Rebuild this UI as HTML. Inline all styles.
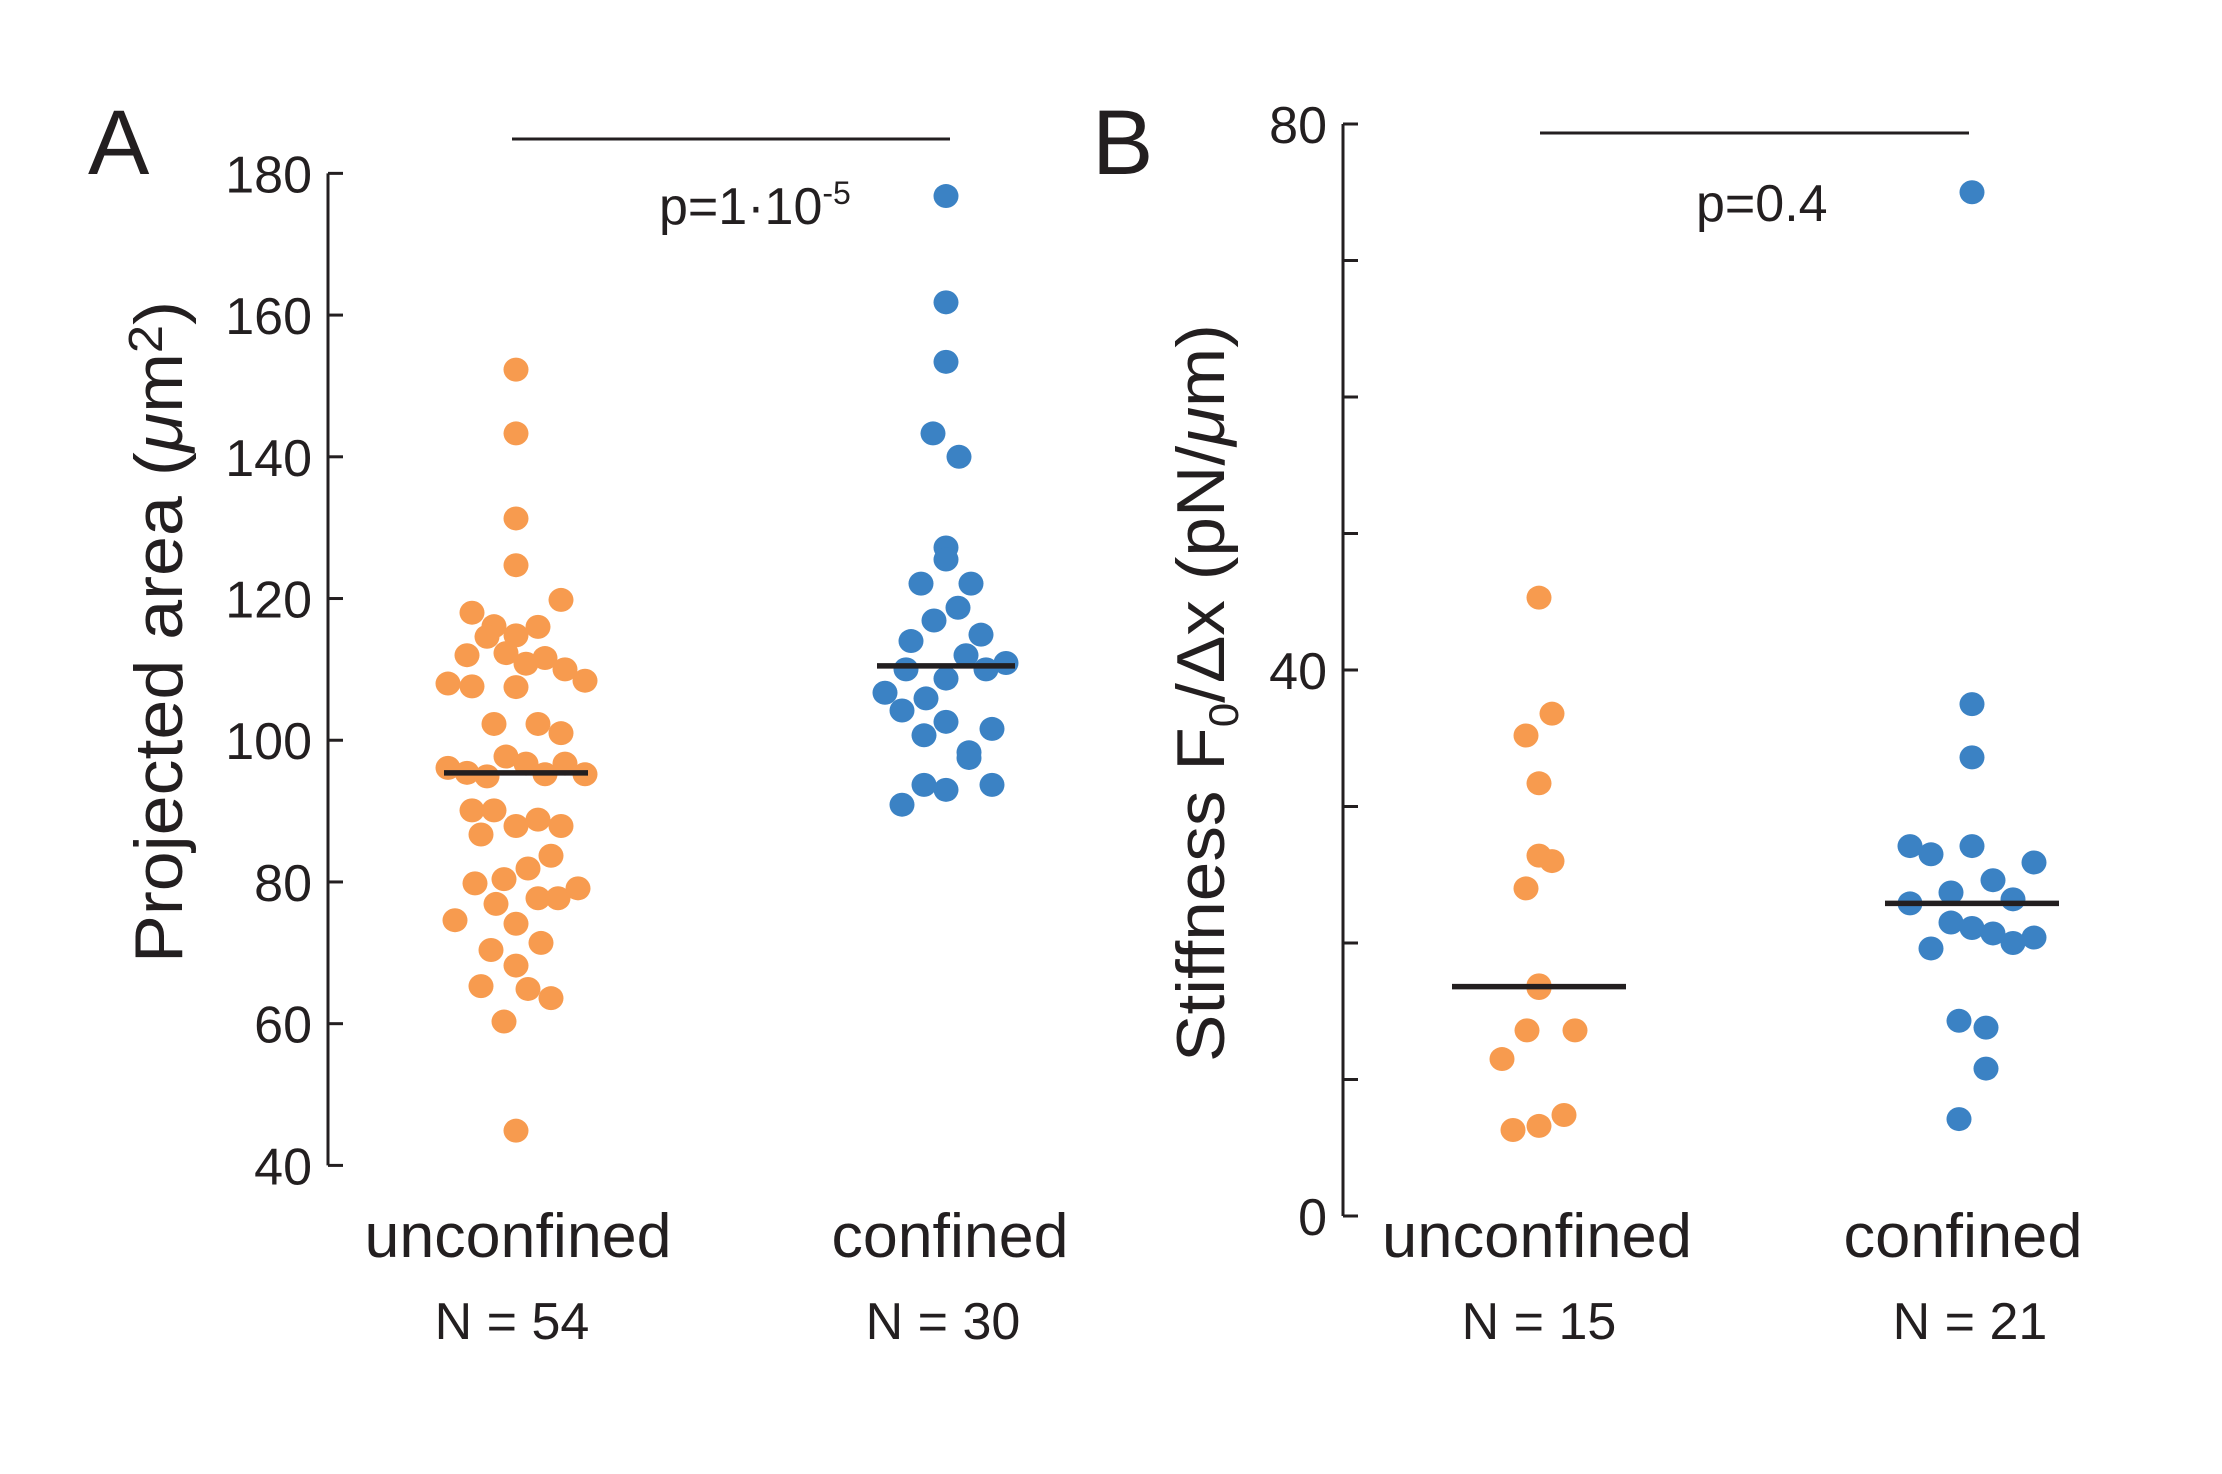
<!DOCTYPE html>
<html><head><meta charset="utf-8"><style>
html,body{margin:0;padding:0;background:#fff;}
svg{display:block;font-family:"Liberation Sans",Arial,sans-serif;fill:#231f20;}
</style></head><body>
<svg id="fig" width="2222" height="1474" viewBox="0 0 2222 1474" xmlns="http://www.w3.org/2000/svg">
<g id="panelA"></g>
<g id="panelB"></g>
</svg>
<script>
// Panel A data
const aTicks = [40,60,80,100,120,140,160,180];
const aUnconf = [152.3,143.3,131.3,124.7,119.8,118.0,116.1,114.6,114.8,116.0,112.0,112.3,111.6,110.8,110.0,108.4,108.0,107.6,107.5,102.3,102.3,101.0,97.7,96.7,96.1,95.4,94.9,95.2,96.7,95.2,90.1,90.1,86.7,87.9,88.8,87.9,83.7,81.9,79.8,80.4,77.7,77.7,79.1,76.9,74.6,74.1,71.4,70.4,68.2,65.3,64.9,63.6,60.3,44.9];
const aUnconfJit = [0,0,0,0,45,-44,-22,-29,0,22,-49,-10,29,10,49,69,-68,-44,0,-22,22,45,-10,10,-68,-49,-29,29,49,69,-44,-22,-35,0,22,45,35,12,-41,-12,22,42,62,-20,-61,0,25,-25,0,-35,12,35,-12,0];
const aConf = [176.8,161.8,153.4,143.3,140.0,127.2,125.5,122.1,122.1,118.7,116.9,114.9,114.0,112.0,110.9,110.0,110.0,108.7,106.7,105.9,104.2,102.6,101.6,100.7,98.3,97.5,93.7,93.0,93.7,90.9];
const aConfJit = [0,0,0,-13,13,0,0,-25,25,12,-12,35,-35,20,60,40,-40,0,-61,-20,-44,0,46,-22,23,23,-22,0,46,-44];
const aMedians = [95.4,110.5];
// Panel B data
const bTicks = [0,10,20,30,40,50,60,70,80];
const bTickLabels = ["0","","","","40","","","","80"];
const bUnconf = [45.3,36.8,35.2,31.7,26.4,26.0,24.0,16.9,16.7,13.6,13.6,11.5,7.4,6.6,6.3];
const bUnconfJit = [0,13,-13,0,0,13,-13,0,0,-12,36,-37,25,0,-26];
const bConf = [75.0,37.5,33.6,27.1,26.5,27.1,25.9,24.6,23.7,23.2,22.9,21.5,21.1,20.7,20.4,20.0,19.6,14.3,13.8,10.8,7.1];
const bConfJit = [0,0,0,-62,-41,0,62,21,-21,41,-62,-21,0,21,62,41,-41,-13,14,14,-13];
const bMedians = [16.8,22.9];

const NS="http://www.w3.org/2000/svg";
const ORANGE="#f79b4f", BLUE="#3b82c4", INK="#231f20";
function mk(parent,tag,attrs,text){const e=document.createElementNS(NS,tag);for(const k in attrs)e.setAttribute(k,attrs[k]);if(text!==undefined)e.textContent=text;parent.appendChild(e);return e;}

function panel(g,cfg){
  const y=cfg.y;
  const ax=mk(g,'line',{x1:cfg.axX,x2:cfg.axX,y1:y(cfg.max),y2:y(cfg.min),stroke:INK,'stroke-width':3});
  
  
  cfg.ticks.forEach((t,i)=>{
    const tk=mk(g,'line',{x1:cfg.axX,x2:cfg.axX+15,y1:y(t),y2:y(t),stroke:INK,'stroke-width':3});
    
    
    const lab=cfg.tickLabels[i];
    if(lab){
      const tl=mk(g,'text',{x:cfg.axX-16,y:y(t)+19,'text-anchor':'end','font-size':52},lab);
      
      
    }
  });
  cfg.series.forEach(s=>{
    s.vals.forEach((v,i)=>{
      const c=mk(g,'ellipse',{cx:s.cx+s.jit[i],cy:y(v),rx:12.5,ry:12,fill:s.color});
      
      
    });
  });
  cfg.series.forEach((s,i)=>{
    const m=mk(g,'line',{x1:s.cx-s.half,x2:s.cx+s.half,y1:y(cfg.medians[i]),y2:y(cfg.medians[i]),stroke:INK,'stroke-width':5.5});
    
    
  });
}
const yA=v=>1165.4-(v-40)*7.086;
const yB=v=>1216-v*13.65;
panel(document.getElementById('panelA'),{y:yA,axX:328,min:40,max:180,ticks:aTicks,tickLabels:aTicks.map(String),medians:aMedians,
  series:[{name:'unconfined',vals:aUnconf,jit:aUnconfJit,cx:516,color:ORANGE,half:72},{name:'confined',vals:aConf,jit:aConfJit,cx:946,color:BLUE,half:69}]});
panel(document.getElementById('panelB'),{y:yB,axX:1343,min:0,max:80,ticks:bTicks,tickLabels:bTickLabels,medians:bMedians,
  series:[{name:'unconfined',vals:bUnconf,jit:bUnconfJit,cx:1539,color:ORANGE,half:87},{name:'confined',vals:bConf,jit:bConfJit,cx:1972,color:BLUE,half:87}]});
</script>
<svg style="position:absolute;left:0;top:0" width="2222" height="1474" viewBox="0 0 2222 1474" xmlns="http://www.w3.org/2000/svg">
<g font-family="Liberation Sans, Arial, sans-serif" fill="#231f20">
<text x="88" y="174" font-size="92">A</text>
<text x="1092" y="174" font-size="92">B</text>
<line x1="512" x2="950" y1="139" y2="139" stroke="#231f20" stroke-width="3"/>
<text x="659" y="224" font-size="52">p=1·10<tspan font-size="32" dy="-20">-5</tspan></text>
<line x1="1540" x2="1969" y1="133" y2="133" stroke="#231f20" stroke-width="3"/>
<text x="1696" y="221" font-size="52">p=0.4</text>
<text transform="translate(182,632) rotate(-90)" text-anchor="middle" font-size="68" textLength="662" lengthAdjust="spacingAndGlyphs">Projected area (<tspan font-style="italic">μ</tspan>m<tspan font-size="48" dy="-20">2</tspan><tspan dy="20">)</tspan></text>
<text transform="translate(1224,693) rotate(-90)" text-anchor="middle" font-size="68" textLength="738" lengthAdjust="spacingAndGlyphs">Stiffness F<tspan font-size="42" dy="14">0</tspan><tspan dy="-14">/Δx (pN/</tspan><tspan font-style="italic">μ</tspan>m)</text>
<text x="518" y="1257" text-anchor="middle" font-size="62" textLength="307" lengthAdjust="spacingAndGlyphs">unconfined</text>
<text x="950" y="1257" text-anchor="middle" font-size="62" textLength="237" lengthAdjust="spacingAndGlyphs">confined</text>
<text x="512" y="1339" text-anchor="middle" font-size="52">N = 54</text>
<text x="943" y="1339" text-anchor="middle" font-size="52">N = 30</text>
<text x="1537" y="1257" text-anchor="middle" font-size="62" textLength="310" lengthAdjust="spacingAndGlyphs">unconfined</text>
<text x="1963" y="1257" text-anchor="middle" font-size="62" textLength="239" lengthAdjust="spacingAndGlyphs">confined</text>
<text x="1539" y="1339" text-anchor="middle" font-size="52">N = 15</text>
<text x="1970" y="1339" text-anchor="middle" font-size="52">N = 21</text>
</g>
</svg>
</body></html>
